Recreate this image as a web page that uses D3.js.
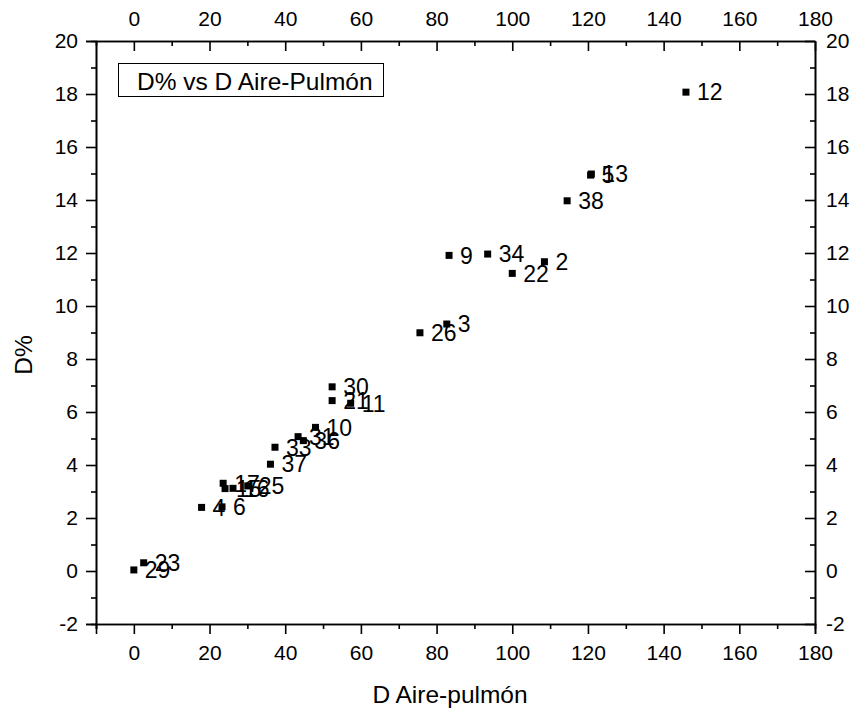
<!DOCTYPE html>
<html>
<head>
<meta charset="utf-8">
<script src="https://cdn.jsdelivr.net/npm/d3@7"></script>
<style>
  html, body { margin: 0; padding: 0; background: #fff; }
  svg { display: block; font-family: Arial, "Liberation Sans", sans-serif; }
</style>
</head>
<body>
<svg id="chart" width="853" height="716"></svg>
<script>
// Sample identifiers, air–lung difference (x) and D% (y)
const labels = ["12","5","13","38","9","34","2","22","26","3","30","21","11","10","31","36","33","37","17","15","16","25","4","6","23","29"];
const dAirePulmon = [145.9,120.7,120.9,114.5,83.3,93.5,108.5,100.0,75.6,82.7,52.4,52.4,57.3,48.0,43.4,44.8,37.3,36.1,23.6,24.1,26.2,30.1,17.9,23.3,2.6,0.0];
const dPercent    = [18.07,14.94,14.98,13.97,11.91,11.96,11.67,11.23,8.99,9.32,6.95,6.43,6.33,5.42,5.07,4.92,4.67,4.03,3.31,3.11,3.12,3.21,2.40,2.42,0.31,0.04];

const xMajor = [0,20,40,60,80,100,120,140,160,180];
const xMinor = [-10,10,30,50,70,90,110,130,150,170];
const yMajor = [-2,0,2,4,6,8,10,12,14,16,18,20];
const yMinor = [-1,1,3,5,7,9,11,13,15,17,19];

const legendText = "D% vs D Aire-Pulmón";
const xTitle = "D Aire-pulmón";
const yTitle = "D%";

const svg = d3.select("#chart");
const plotL = 96, plotR = 815, plotT = 41, plotB = 624;

const x = d3.scaleLinear().domain([-10, 180]).range([plotL, plotR]);
const y = d3.scaleLinear().domain([-2, 20]).range([plotB, plotT]);

const tickFont = "21px";
const plain = d => String(d);   // hyphen-minus for negative ticks

function styleAxis(g) {
  g.selectAll("path.domain").attr("stroke", "#000").attr("stroke-width", 1.6);
  g.selectAll(".tick line").attr("stroke", "#000").attr("stroke-width", 1.6);
  g.selectAll(".tick text").attr("fill", "#000").style("font-size", tickFont)
    .style("font-family", "Arial, 'Liberation Sans', sans-serif");
}

// bottom axis (ticks outward)
svg.append("g").attr("transform", `translate(0,${plotB})`)
  .call(d3.axisBottom(x).tickValues(xMajor).tickSize(10).tickPadding(11).tickFormat(plain))
  .call(styleAxis);
svg.append("g").attr("transform", `translate(0,${plotB})`)
  .call(d3.axisBottom(x).tickValues(xMinor).tickSize(5).tickFormat(""))
  .call(styleAxis);

// top axis (ticks inward)
svg.append("g").attr("transform", `translate(0,${plotT})`)
  .call(d3.axisTop(x).tickValues(xMajor).tickSizeInner(-10).tickSizeOuter(0).tickPadding(15).tickFormat(plain))
  .call(styleAxis);
svg.append("g").attr("transform", `translate(0,${plotT})`)
  .call(d3.axisTop(x).tickValues(xMinor).tickSizeInner(-5).tickSizeOuter(0).tickFormat(""))
  .call(styleAxis);

// left axis (ticks outward)
svg.append("g").attr("transform", `translate(${plotL},0)`)
  .call(d3.axisLeft(y).tickValues(yMajor).tickSize(10).tickPadding(8).tickFormat(plain))
  .call(styleAxis);
svg.append("g").attr("transform", `translate(${plotL},0)`)
  .call(d3.axisLeft(y).tickValues(yMinor).tickSize(5).tickFormat(""))
  .call(styleAxis);

// right axis (ticks inward)
svg.append("g").attr("transform", `translate(${plotR},0)`)
  .call(d3.axisRight(y).tickValues(yMajor).tickSizeInner(-10).tickSizeOuter(0).tickPadding(11).tickFormat(plain))
  .call(styleAxis);
svg.append("g").attr("transform", `translate(${plotR},0)`)
  .call(d3.axisRight(y).tickValues(yMinor).tickSizeInner(-5).tickSizeOuter(0).tickFormat(""))
  .call(styleAxis);

// points
const pts = labels.map((lab, i) => ({ lab, xv: dAirePulmon[i], yv: dPercent[i] }));
const ms = 7;
svg.append("g").selectAll("rect").data(pts).join("rect")
  .attr("x", d => x(d.xv) - ms / 2)
  .attr("y", d => y(d.yv) - ms / 2)
  .attr("width", ms).attr("height", ms)
  .attr("fill", "#000");

svg.append("g").selectAll("text").data(pts).join("text")
  .attr("x", d => x(d.xv) + 11)
  .attr("y", d => y(d.yv))
  .attr("dy", "0.36em")
  .style("font-size", "23px")
  .attr("fill", "#000")
  .text(d => d.lab);

// legend box
svg.append("rect").attr("x", 118.5).attr("y", 63.5).attr("width", 265).attr("height", 33)
  .attr("fill", "#fff").attr("stroke", "#000").attr("stroke-width", 1);
svg.append("text").attr("x", 137).attr("y", 89.5).style("font-size", "24.5px").attr("fill", "#000")
  .text(legendText);

// axis titles
svg.append("text").attr("x", 450).attr("y", 703)
  .attr("text-anchor", "middle").style("font-size", "24.5px").attr("fill", "#000")
  .text(xTitle);
svg.append("text").attr("transform", "translate(32,355) rotate(-90)")
  .attr("text-anchor", "middle").style("font-size", "24.5px").attr("fill", "#000")
  .text(yTitle);
</script>
</body>
</html>
